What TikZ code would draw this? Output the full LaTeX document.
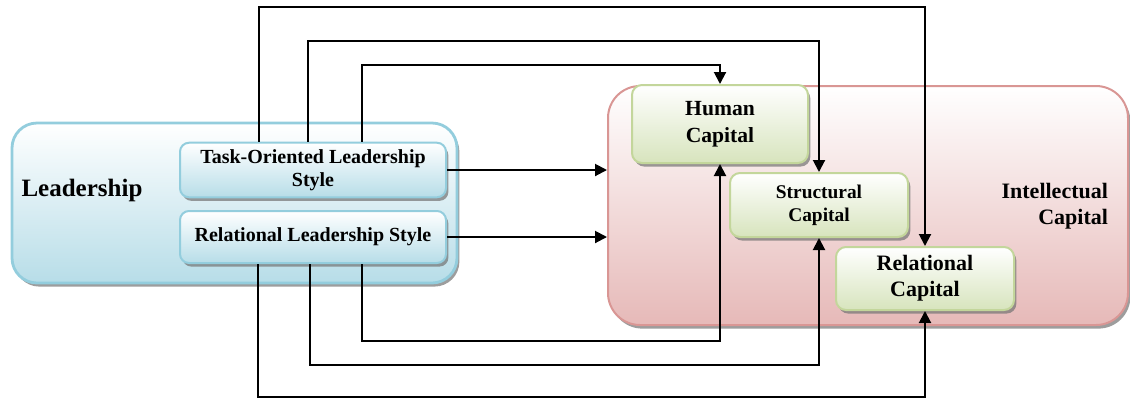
\documentclass[tikz,border=0pt]{standalone}
\usepackage{fontspec}
\setmainfont{Liberation Serif}
\usetikzlibrary{arrows.meta,shadows}
\definecolor{blueline}{HTML}{93CDDD}
\definecolor{bluefill}{HTML}{B7DDE8}
\definecolor{redline}{HTML}{D99694}
\definecolor{redfill}{HTML}{E6B9B8}
\definecolor{greenline}{HTML}{C3D69B}
\definecolor{greenfill}{HTML}{D7E4BD}

\begin{document}
\begin{tikzpicture}[x=0.5pt,y=-0.5pt,
    boxshadow/.style={drop shadow={shadow xshift=1.2pt,shadow yshift=-1.8pt,opacity=0.7,fill=black!55}},
    leadbox/.style={draw=blueline,line width=1.4pt,rounded corners=12.5pt,top color=white,bottom color=bluefill,boxshadow},
    stylebox/.style={draw=blueline,line width=1pt,rounded corners=4.5pt,top color=white,bottom color=bluefill,boxshadow,align=center,font=\fontsize{10}{11.5}\selectfont\bfseries},
    icbox/.style={draw=redline,line width=1pt,rounded corners=16pt,top color=white,bottom color=redfill,boxshadow},
    capbox/.style={draw=greenline,line width=1pt,rounded corners=5pt,top color=white,bottom color=greenfill,boxshadow,align=center},
    link/.style={line width=1pt,-{Triangle[length=6pt,width=6pt]}}]
  \useasboundingbox (0,0) rectangle (1130,398);

  % left group
  \node[leadbox,minimum width=222.5pt,minimum height=80pt] (lead) at (234.5,203) {};
  \node[font=\fontsize{12.5}{14}\selectfont\bfseries] (leadlbl) at (82,190) {Leadership};
  \node[stylebox,minimum width=133pt,minimum height=27pt] (task) at (313,170) {Task-Oriented Leadership\\Style};
  \node[stylebox,minimum width=133pt,minimum height=26pt] (rel) at (313,237) {Relational Leadership Style};

  % right group
  \node[icbox,minimum width=260pt,minimum height=119.5pt] (ic) at (868,205.5) {};
  \node[align=right,anchor=east,font=\fontsize{11}{13}\selectfont\bfseries] (iclbl) at (1115,206) {Intellectual\\Capital};
  \node[capbox,minimum width=88pt,minimum height=39pt,font=\fontsize{10.8}{13.5}\selectfont\bfseries] (hc) at (720,124) {Human\\Capital};
  \node[capbox,minimum width=89pt,minimum height=32pt,font=\fontsize{9.7}{11.5}\selectfont\bfseries] (sc) at (819,205) {Structural\\Capital};
  \node[capbox,minimum width=89pt,minimum height=31.5pt,font=\fontsize{11}{13}\selectfont\bfseries] (rc) at (925,278.5) {Relational\\Capital};

  % bends
  \coordinate (t1) at (259,7);
  \coordinate (t2) at (308,41);
  \coordinate (t3) at (362,65);
  \coordinate (b1) at (258,396.5);
  \coordinate (b2) at (310,365);
  \coordinate (b3) at (362,341);

  \draw[link] (task.east) -- (ic.west |- task.east);
  \draw[link] (rel.east) -- (ic.west |- rel.east);
  \draw[link] (task.north -| t1) -- (t1) -| (rc.north);
  \draw[link] (task.north -| t2) -- (t2) -| (sc.north);
  \draw[link] (task.north -| t3) -- (t3) -| (hc.north);
  \draw[link] (rel.south -| b1) -- (b1) -| (rc.south);
  \draw[link] (rel.south -| b2) -- (b2) -| (sc.south);
  \draw[link] (rel.south -| b3) -- (b3) -| (hc.south);
\end{tikzpicture}
\end{document}
